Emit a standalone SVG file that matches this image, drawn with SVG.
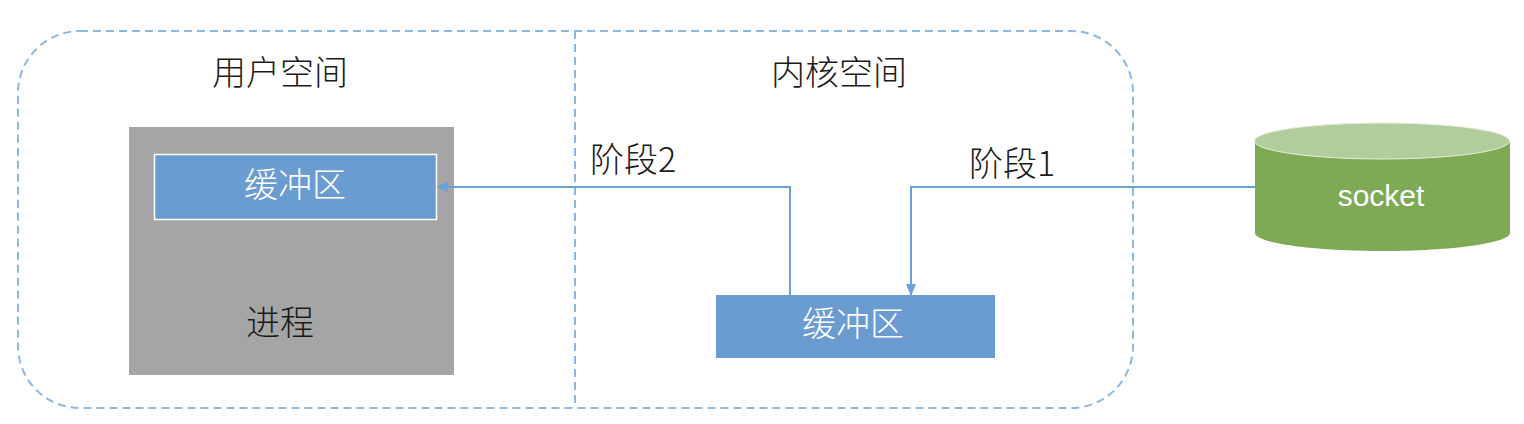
<svg xmlns="http://www.w3.org/2000/svg" width="1524" height="424" viewBox="0 0 1524 424">
<style>
text{font-family:"Liberation Sans","Noto Sans CJK SC",sans-serif;text-anchor:middle}
.cjk{font-family:"Noto Sans CJK SC",sans-serif;font-weight:300}
.d{font-size:34px;fill:#1a1a1a}
.w{font-size:34px;fill:#fff}
.c{fill:none;stroke:#6a9fd8;stroke-width:2}
.dash{fill:none;stroke:#8cb8e4;stroke-width:2;stroke-dasharray:8 5}
</style>
<defs><marker id="a" markerWidth="12" markerHeight="10" refX="11" refY="5" orient="auto" markerUnits="userSpaceOnUse"><path d="M0 0L12 5L0 10Z" fill="#6a9fd8"/></marker></defs>
<rect width="1524" height="424" fill="#fff"/>
<g id="boundary">
<rect class="dash" x="18" y="31" width="1115" height="377" rx="62"/>
<path class="dash" d="M575 31V408"/>
<text class="d cjk" x="280" y="85">用户空间</text>
<text class="d cjk" x="839" y="85">内核空间</text>
</g>
<g id="process">
<rect x="129" y="127" width="325" height="248" fill="#a5a5a5"/>
<text class="d cjk" x="280" y="335">进程</text>
</g>
<g id="user-buffer">
<rect x="154.500" y="154.500" width="282" height="65" fill="#6a9bd1" stroke="#fff" stroke-width="1.500"/>
<text class="w cjk" x="295" y="197">缓冲区</text>
</g>
<g id="kernel-buffer">
<rect x="716" y="295" width="279" height="63" fill="#6a9bd1"/>
<text class="w cjk" x="853" y="336">缓冲区</text>
</g>
<g id="socket">
<path d="M1255 141V233C1255 243 1312 251 1382 251S1510 243 1510 233V141Z" fill="#7eaa55"/>
<ellipse cx="1382" cy="141" rx="127.500" ry="18" fill="#b2cd9c" stroke="#e6efdd" stroke-width="1"/>
<text x="1381" y="206" font-size="30" fill="#fff">socket</text>
</g>
<g id="connectors">
<path class="c" marker-end="url(#a)" d="M790 295V187H437"/>
<path class="c" marker-end="url(#a)" d="M1255 187H911V295"/>
</g>
<g id="labels">
<text class="d cjk" x="633" y="172">阶段2</text>
<text class="d cjk" x="1012" y="176">阶段1</text>
</g>
</svg>
